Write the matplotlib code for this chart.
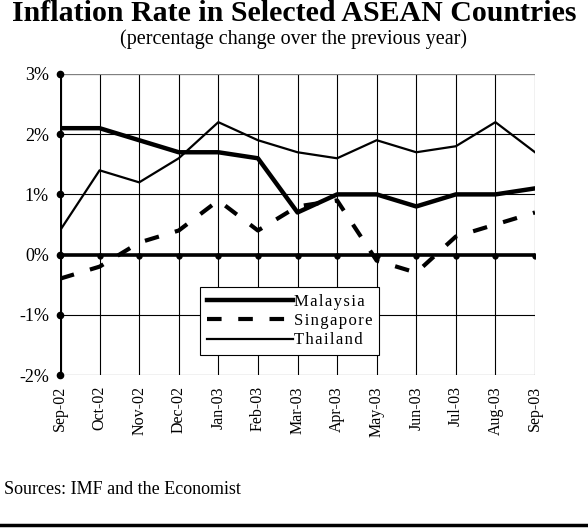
import numpy as np
import matplotlib.pyplot as plt
from matplotlib.lines import Line2D

plt.rcParams['font.family'] = ['Liberation Serif', 'DejaVu Serif']

# datos (% anual)
meses = ["Sep-02", "Oct-02", "Nov-02", "Dec-02", "Jan-03", "Feb-03", "Mar-03",
         "Apr-03", "May-03", "Jun-03", "Jul-03", "Aug-03", "Sep-03"]
malaysia = [2.1, 2.1, 1.9, 1.7, 1.7, 1.6, 0.7, 1.0, 1.0, 0.8, 1.0, 1.0, 1.1]
singapore = [-0.4, -0.2, 0.2, 0.4, 0.9, 0.4, 0.8, 0.9, -0.1, -0.3, 0.3, 0.5, 0.7]
thailand = [0.4, 1.4, 1.2, 1.6, 2.2, 1.9, 1.7, 1.6, 1.9, 1.7, 1.8, 2.2, 1.7]
y_ticks = [-2, -1, 0, 1, 2, 3]

fig = plt.figure(figsize=(5.88, 5.28), dpi=100)
ax = fig.add_axes([60 / 588, 1 - 375 / 528, 475 / 588, 301 / 528])

x = np.arange(len(meses))

# cuadricula
for xi in x:
    ax.axvline(xi, color='black', lw=0.8, zorder=1)
for yi in y_ticks:
    ax.axhline(yi, color='black', lw=0.8, zorder=1)
ax.axhline(3, color='0.5', lw=0.8, zorder=1)

ax.plot(x, thailand, color='black', lw=1.6, label="Thailand", zorder=3)
ax.plot(x, singapore, color='black', lw=3, dashes=(3.5, 4), label="Singapore", zorder=3)
ax.plot(x, malaysia, color='black', lw=3.2, label="Malaysia", zorder=4)

# eje cero y eje y gruesos con puntos
ax.axhline(0, color='black', lw=2.6, zorder=5)
ax.plot(x, np.zeros(len(x)) - 0.03, 'o', color='black', ms=3.5, zorder=5)
ax.axvline(0, color='black', lw=3, zorder=5)
ax.plot(np.zeros(len(y_ticks)), y_ticks, 'o', color='black', ms=4.5, zorder=5, clip_on=False)

ax.set_xlim(0, len(meses) - 1)
ax.set_ylim(-2, 3)
for s in ax.spines.values():
    s.set_visible(False)
ax.set_yticks(y_ticks)
ax.set_yticklabels(['%i%%' % v for v in y_ticks], fontsize=13)
ax.set_xticks(x)
ax.set_xticklabels(meses, rotation=90, fontsize=11.5)
ax.tick_params(axis='y', length=0, pad=8)
ax.tick_params(axis='x', length=0, pad=8)

h, l = ax.get_legend_handles_labels()
orden = [2, 1, 0]
# texto de la leyenda con letras espaciadas
etiquetas = ['\u200a'.join(l[i]) for i in orden]
leg = ax.legend([h[i] for i in orden], etiquetas,
                loc='upper left', bbox_to_anchor=(140 / 475, 88 / 301),
                fontsize=12, frameon=True, fancybox=False, edgecolor='black',
                framealpha=1, handlelength=5.2, handletextpad=0.05,
                labelspacing=0.2, borderpad=0.4, borderaxespad=0)
leg.get_frame().set_linewidth(0.8)
leg.set_zorder(10)

fig.text(0.5, 1 - 21 / 528, "Inflation Rate in Selected ASEAN Countries",
         ha='center', va='baseline', fontsize=21.5, fontweight='bold')
fig.text(0.5, 1 - 44 / 528, "(percentage change over the previous year)",
         ha='center', va='baseline', fontsize=14.5)
fig.text(4 / 588, 1 - 494 / 528, "Sources: IMF and the Economist",
         ha='left', va='baseline', fontsize=13)
fig.add_artist(Line2D([0, 1], [1 - 525 / 528, 1 - 525 / 528], color='black', lw=2.5))

plt.savefig("out.png", dpi=100)
